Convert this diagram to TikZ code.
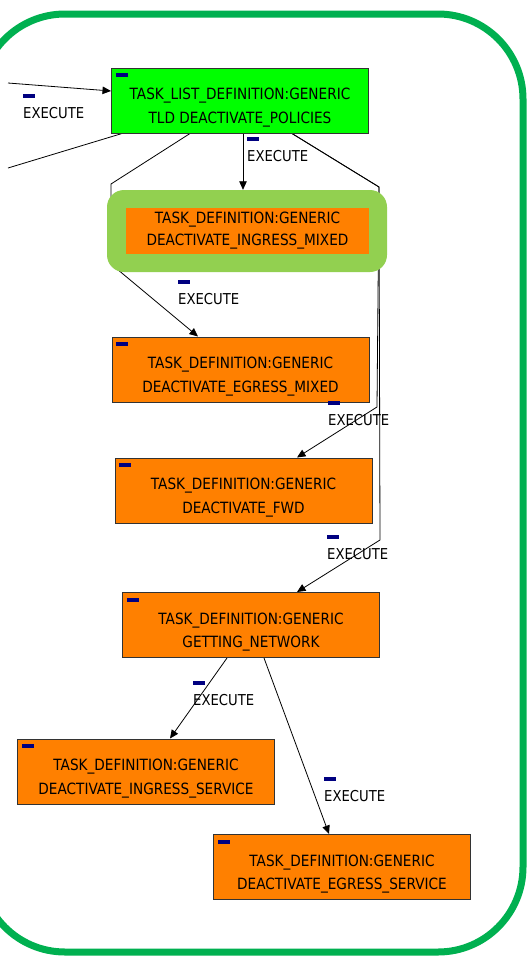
\documentclass[tikz,border=0pt]{standalone}
\usepackage{fontspec}
\usetikzlibrary{arrows.meta,backgrounds}
\newfontfamily\tdfont[FakeStretch=0.88]{DejaVu Sans}
\definecolor{framegreen}{HTML}{00B050}
\definecolor{tldgreen}{HTML}{00FF00}
\definecolor{taskorange}{HTML}{FF8000}
\definecolor{hilite}{HTML}{92D050}
\definecolor{navyicon}{HTML}{000080}
\definecolor{boxline}{HTML}{333333}

\begin{document}
\begin{tikzpicture}[x=1pt,y=-1pt,
  frame/.style={draw=framegreen, line width=7pt, rounded corners=85pt},
  taskbox/.style={draw=boxline, line width=1pt, minimum width=257pt,
    minimum height=65pt, inner sep=0pt,
    path picture={\fill[navyicon] ([shift={(4pt,-5pt)}]path picture bounding box.north west) rectangle ++(12pt,-4pt);}},
  tasktext/.style={font=\tdfont\fontsize{15.5}{23.5}\selectfont, align=center,
    inner sep=0pt, text=black},
  hilitebox/.style={fill=hilite, draw=none, rounded corners=17pt,
    minimum width=280pt, minimum height=82pt},
  activebox/.style={fill=taskorange, draw=none, minimum width=243pt,
    minimum height=46pt, inner sep=0pt, font=\tdfont\fontsize{15.5}{22}\selectfont,
    align=center, text=black},
  icon/.style={fill=navyicon, inner sep=0pt, minimum width=12pt,
    minimum height=4pt, anchor=south west, yshift=8.5pt},
  lbl/.style={font=\tdfont\fontsize{15}{17}\selectfont, inner sep=0pt,
    anchor=north west, text=black, label={[icon]north west:{}}},
  line/.style={draw=black, line width=0.8pt},
  conn/.style={line, -{Triangle[length=8.5pt,width=7.5pt]}}
]
\useasboundingbox (0,0) rectangle (528,956);

% outer frame
\draw[frame] (-20,14) rectangle (523,952);

% task list definition
\node[taskbox, fill=tldgreen] (tld) at (240,100.5) {};
\node[tasktext] (tld-t) at ([yshift=-7pt]tld.center)
  {TASK\_LIST\_DEFINITION:GENERIC\\TLD DEACTIVATE\_POLICIES};

% active task with its highlight
\node[hilitebox] (hl) at (247,231) {};
\node[activebox] (imx) at (247.5,231)
  {TASK\_DEFINITION:GENERIC\\DEACTIVATE\_INGRESS\_MIXED};

% task definitions
\node[taskbox, fill=taskorange] (egm) at (240.5,369.5) {};
\node[tasktext] (egm-t) at ([yshift=-7pt]egm.center)
  {TASK\_DEFINITION:GENERIC\\DEACTIVATE\_EGRESS\_MIXED};

\node[taskbox, fill=taskorange] (fwd) at (243.5,490.5) {};
\node[tasktext] (fwd-t) at ([yshift=-7pt]fwd.center)
  {TASK\_DEFINITION:GENERIC\\DEACTIVATE\_FWD};

\node[taskbox, fill=taskorange] (gn) at (251,625) {};
\node[tasktext] (gn-t) at ([yshift=-7pt]gn.center)
  {TASK\_DEFINITION:GENERIC\\GETTING\_NETWORK};

\node[taskbox, fill=taskorange] (is) at (146,771.5) {};
\node[tasktext] (is-t) at ([yshift=-7pt]is.center)
  {TASK\_DEFINITION:GENERIC\\DEACTIVATE\_INGRESS\_SERVICE};

\node[taskbox, fill=taskorange] (es) at (342,867) {};
\node[tasktext] (es-t) at ([yshift=-7pt]es.center)
  {TASK\_DEFINITION:GENERIC\\DEACTIVATE\_EGRESS\_SERVICE};

% loose ends of the edges that leave the view
\coordinate (inL) at (8,83);
\coordinate (outL) at (8,168);

% connectors, kept behind the boxes
\begin{scope}[on background layer]
  \draw[conn] (inL) -- ([yshift=9.5pt]tld.west);
  \draw[line] ([xshift=11pt]tld.south west) -- (outL);
  \draw[conn] ([xshift=3pt]tld.south) -- ([xshift=3pt]tld.south |- hl.north);
  \draw[conn] ([xshift=-50pt]tld.south) -- (111,184) -- (111,264)
    -- ([xshift=-42.5pt]egm.north);
  \draw[conn] ([xshift=52pt]tld.south) -- (379,187) -- (377,407)
    -- ([xshift=53.5pt]fwd.north);
  \draw[conn] ([xshift=52pt]tld.south) -- (379,187) -- (380,540)
    -- ([xshift=46pt]gn.north);
  \draw[conn] ([xshift=-24pt]gn.south) -- ([xshift=24pt]is.north);
  \draw[conn] ([xshift=13pt]gn.south) -- ([xshift=-13pt]es.north);
\end{scope}

% edge labels
\node[lbl] (l1) at (23,107) {EXECUTE};
\node[lbl] (l2) at (247,150) {EXECUTE};
\node[lbl] (l3) at (178,293) {EXECUTE};
\node[lbl] (l4) at (328,414) {EXECUTE};
\node[lbl] (l5) at (327,548) {EXECUTE};
\node[lbl] (l6) at (193,694) {EXECUTE};
\node[lbl] (l7) at (324,790) {EXECUTE};
\end{tikzpicture}
\end{document}
